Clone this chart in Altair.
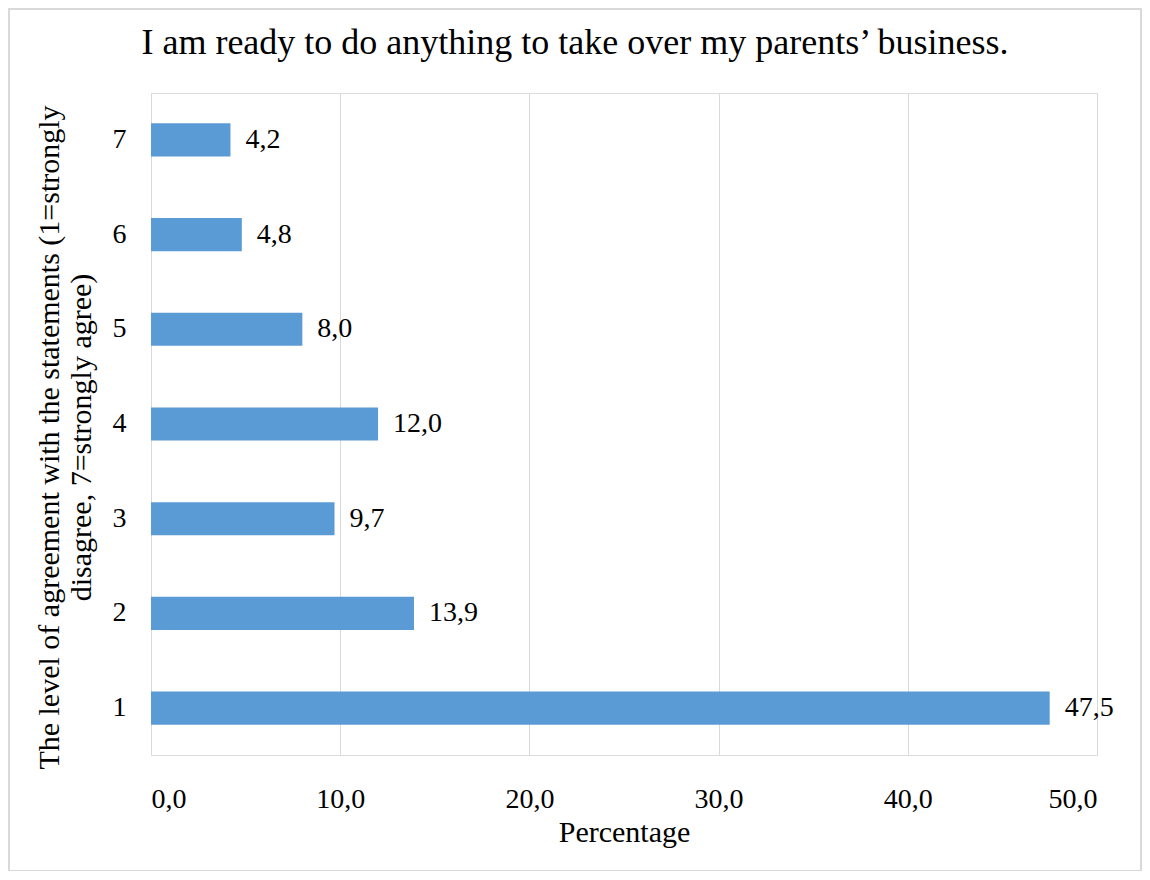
import altair as alt
import pandas as pd

categories = ["7", "6", "5", "4", "3", "2", "1"]
values = [4.2, 4.8, 8.0, 12.0, 9.7, 13.9, 47.5]
x_ticks = [0, 10, 20, 30, 40, 50]

df = pd.DataFrame({"level": categories, "pct": values})

FONT = "Liberation Serif"
W, H = 946, 662
PAD = {"left": 143, "top": 85, "right": 45, "bottom": 116}

y_enc = alt.Y(
    "level:N",
    sort=categories,
    scale=alt.Scale(paddingInner=0.65, paddingOuter=0.32),
    axis=alt.Axis(
        title=["The level of agreement with the statements (1=strongly", "disagree, 7=strongly agree)"],
        titleFont=FONT, titleFontSize=30, titleFontWeight="normal", titleColor="#000000",
        titleLineHeight=32, titlePadding=16, titleY=344,
        labelFont=FONT, labelFontSize=28, labelColor="#000000", labelPadding=25,
        ticks=False, domain=False, grid=False,
    ),
)

x_enc = alt.X(
    "pct:Q",
    scale=alt.Scale(domain=[0, 50], nice=False),
    axis=alt.Axis(
        values=x_ticks,
        labelExpr="replace(format(datum.value, '.1f'), '.', ',')",
        title="Percentage",
        titleFont=FONT, titleFontSize=30, titleFontWeight="normal", titleColor="#000000",
        titlePadding=4,
        labelFont=FONT, labelFontSize=28, labelColor="#000000", labelPadding=30,
        ticks=False, domain=False, grid=True, gridColor="#D9D9D9", gridWidth=1,
    ),
)

base = alt.Chart(df)

bars = base.mark_bar(color="#5B9BD5").encode(y=y_enc, x=x_enc)

labels = base.transform_calculate(
    lbl="replace(format(datum.pct, '.1f'), '.', ',')"
).mark_text(
    align="left", baseline="middle", dx=15, font=FONT, fontSize=28, color="#000000"
).encode(y=alt.Y("level:N", sort=categories), x=alt.X("pct:Q"), text="lbl:N")

frame = alt.Chart(pd.DataFrame({"a": [0]})).mark_rect(
    fill=None, stroke="#D9D9D9", strokeWidth=2
).encode(
    x=alt.value(-142), x2=alt.value(990), y=alt.value(-84), y2=alt.value(778)
)

chart = alt.layer(frame, bars, labels).properties(
    width=W, height=H,
    padding=PAD,
    autosize=alt.AutoSizeParams(type="none"),
    title=alt.TitleParams(
        "I am ready to do anything to take over my parents\u2019 business.",
        font=FONT, fontSize=36, fontWeight="normal", color="#000000",
        anchor="middle", frame="bounds", offset=0, dy=54,
    ),
).configure_view(stroke=None).configure(background="white")

chart.save("out.html", embed_options={"renderer": "svg", "actions": False})
